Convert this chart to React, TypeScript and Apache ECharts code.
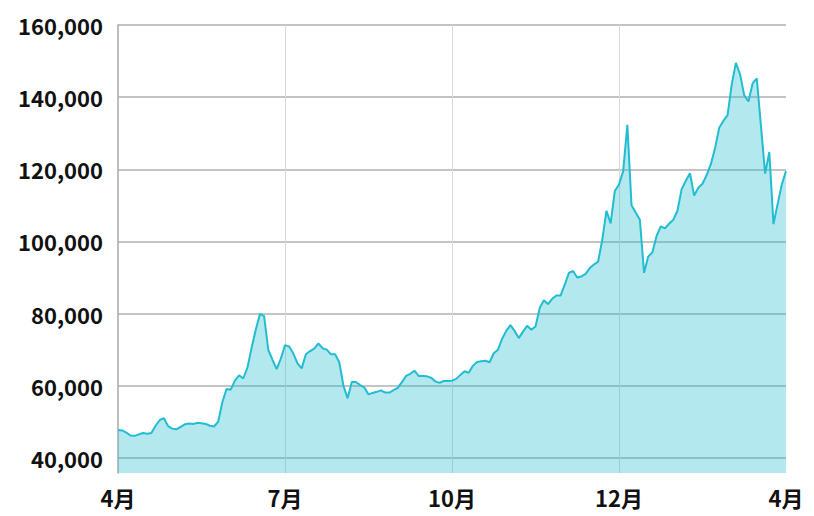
import React, { useEffect, useRef } from "react";
import * as echarts from "echarts";

const xTickLabels = ["4月", "7月", "10月", "12月", "4月"];
const yTicks = [40000, 60000, 80000, 100000, 120000, 140000, 160000];
const yMin = 35800;
const yMax = 160000;

const prices = [
  47700, 47600, 47000, 46200, 46100, 46500, 46900, 46700, 46900, 48900,
  50500, 51000, 48800, 48100, 47900, 48600, 49300, 49500, 49400, 49700,
  49600, 49400, 48900, 48700, 50000, 55500, 59100, 58900, 61400, 62900,
  62000, 65000, 70500, 75500, 79900, 79300, 69900, 67200, 64600, 67500,
  71200, 70900, 68900, 66200, 64800, 68700, 69600, 70300, 71700, 70400,
  70000, 68700, 68700, 66500, 60000, 56500, 61000, 61000, 60200, 59500,
  57600, 58000, 58300, 58700, 58100, 58100, 58800, 59400, 61000, 62700,
  63300, 64150, 62700, 62700, 62600, 62200, 61200, 60800, 61300, 61300,
  61400, 61900, 63000, 64000, 63600, 65500, 66600, 66800, 66900, 66500,
  69000, 70000, 73000, 75200, 76800, 75200, 73200, 75000, 76600, 75500,
  76400, 81500, 83700, 82600, 84100, 85000, 85000, 88000, 91300, 91800,
  90000, 90300, 91000, 92600, 93600, 94400, 100500, 108500, 105000, 114000,
  115800, 119500, 132300, 110000, 108000, 106000, 91300, 95800, 97000, 101500,
  104200, 103600, 104900, 106000, 108500, 114500, 116800, 118900, 112700, 114900,
  116000, 118400, 121400, 125800, 131500, 133400, 135000, 143500, 149500, 146300,
  140500, 138800, 143800, 145200, 132000, 118800, 124800, 104800, 110400, 115800,
  119500,
];

const categories = prices.map((_, i) => String(i));
const tickStep = (prices.length - 1) / (xTickLabels.length - 1);

export default function App() {
  const ref = useRef<HTMLDivElement>(null);
  useEffect(() => {
    if (!ref.current) return;
    const chart = echarts.init(ref.current, undefined, { renderer: "svg" });
    const font = '"Noto Sans CJK JP", "Noto Sans", sans-serif';
    chart.setOption({
      animation: false,
      grid: { left: 118, right: 28, top: 25, bottom: 43, containLabel: false },
      xAxis: {
        type: "category",
        data: categories,
        boundaryGap: false,
        axisLine: { show: false },
        axisTick: { show: false },
        axisLabel: {
          interval: (index: number) => index % tickStep === 0,
          formatter: (_v: string, index: number) => xTickLabels[Math.round(index / tickStep)] ?? "",
          margin: 13,
          fontSize: 22,
          fontFamily: font,
          fontWeight: "bold",
          color: "#111",
        },
        splitLine: {
          show: true,
          interval: (index: number) => index % tickStep === 0 && index > 0 && index < prices.length - 1,
          lineStyle: { color: "#d9d9d9", width: 1 },
        },
      },
      yAxis: {
        type: "value",
        min: yMin,
        max: yMax,
        axisLine: { show: true, lineStyle: { color: "#a8a8a8", width: 1.5 } },
        axisTick: { show: false, customValues: yTicks },
        axisLabel: {
          customValues: yTicks,
          formatter: (v: number) => v.toLocaleString("en-US"),
          margin: 15,
          fontSize: 22,
          fontFamily: font,
          fontWeight: "bold",
          color: "#111",
        },
        splitLine: { show: true, lineStyle: { color: "#c4c4c4", width: 1.8 } },
      },
      series: [
        {
          type: "line",
          data: prices,
          symbol: "none",
          lineStyle: { color: "#22bdd0", width: 2 },
          itemStyle: { color: "#22bdd0" },
          areaStyle: { color: "#1fbccf", opacity: 0.34 },
        },
      ],
    });
    return () => chart.dispose();
  }, []);
  return <div ref={ref} style={{ width: 814, height: 516, position: "absolute", left: 0, top: 0 }} />;
}
